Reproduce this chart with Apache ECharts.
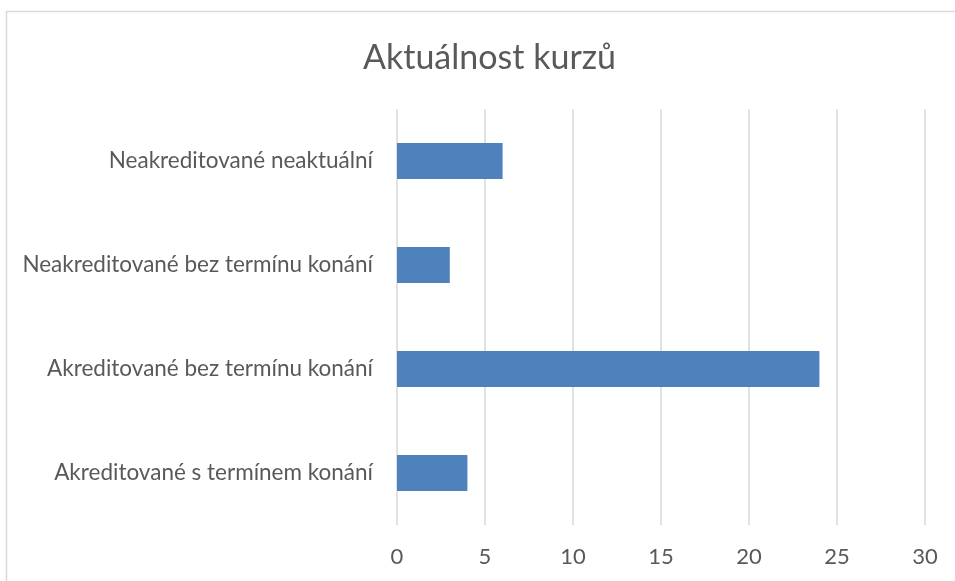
<!DOCTYPE html>
<html>
<head>
<meta charset="utf-8">
<script src="https://cdn.jsdelivr.net/npm/echarts@6/dist/echarts.min.js"></script>
<style>
  html, body { margin: 0; padding: 0; background: #fff; }
  #chart { width: 955px; height: 581px; }
</style>
</head>
<body>
<div id="chart"></div>
<script>
var categories = ['Akreditované s termínem konání', 'Akreditované bez termínu konání', 'Neakreditované bez termínu konání', 'Neakreditované neaktuální'];
var values = [4, 24, 3, 6];
var xTicks = [0, 5, 10, 15, 20, 25, 30];

var chart = echarts.init(document.getElementById('chart'));
var option = {
    animation: false,
    backgroundColor: '#fff',
    textStyle: { fontFamily: 'Lato, "Open Sans", sans-serif' },
    title: {
        text: 'Aktuálnost kurzů',
        left: 358,
        top: 36,
        textStyle: { fontSize: 34, fontWeight: 'normal', color: '#595959', fontFamily: 'Lato, "Open Sans", sans-serif' }
    },
    graphic: [{
        type: 'rect',
        shape: { x: 6.5, y: 11.5, width: 1000, height: 700 },
        style: { fill: 'none', stroke: '#d9d9d9', lineWidth: 1.5 },
        silent: true
    }],
    grid: { left: 397, right: 30, top: 109, bottom: 56 },
    xAxis: {
        type: 'value',
        min: xTicks[0],
        max: xTicks[xTicks.length - 1],
        interval: 5,
        axisLine: { show: false },
        axisTick: { show: false },
        splitLine: { lineStyle: { color: '#d9d9d9', width: 1.5 } },
        axisLabel: { fontSize: 22, color: '#595959', margin: 21 }
    },
    yAxis: {
        type: 'category',
        data: categories,
        axisLine: { show: false },
        axisTick: { show: false },
        axisLabel: { fontSize: 22.5, color: '#595959', margin: 24 }
    },
    series: [{
        type: 'bar',
        data: values,
        barWidth: 36,
        itemStyle: { color: '#4f81bd' }
    }]
};
chart.setOption(option);
window.addEventListener('resize', chart.resize);
</script>
</body>
</html>
